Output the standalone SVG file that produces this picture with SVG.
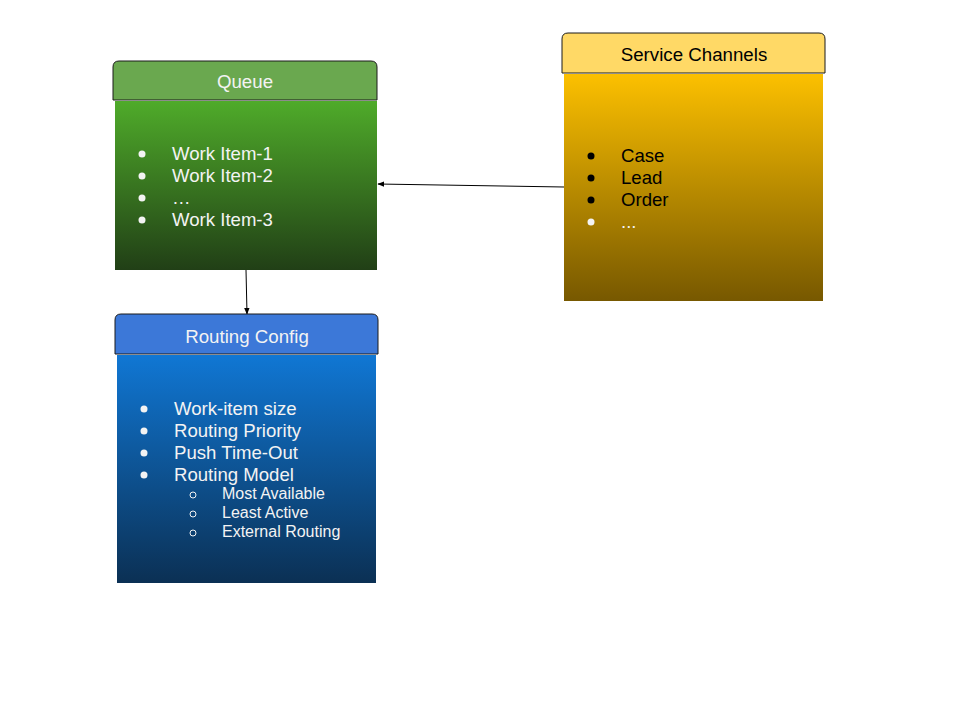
<svg xmlns="http://www.w3.org/2000/svg" width="960" height="720" viewBox="0 0 960 720">
<defs>
<linearGradient id="gGreen" x1="0" y1="0" x2="0" y2="1"><stop offset="0" stop-color="#4fab2a"/><stop offset="1" stop-color="#213f16"/></linearGradient>
<linearGradient id="gGold" x1="0" y1="0" x2="0" y2="1"><stop offset="0" stop-color="#fcc000"/><stop offset="1" stop-color="#775800"/></linearGradient>
<linearGradient id="gBlue" x1="0" y1="0" x2="0" y2="1"><stop offset="0" stop-color="#1077d4"/><stop offset="1" stop-color="#0b3054"/></linearGradient>
<marker id="arr" viewBox="0 0 10 10" refX="9" refY="5" markerWidth="7" markerHeight="7" orient="auto" markerUnits="userSpaceOnUse"><path d="M0,1 L10,5 L0,9 z" fill="#000"/></marker>
</defs>
<style>
text{font-family:"Liberation Sans",Arial,sans-serif}
.hdr{stroke:#1a1a1a;stroke-width:1}
.ht{font-size:18.7px;text-anchor:middle}
.it{font-size:18.6px}
.sub{font-size:16px}
.w{fill:#f3f3f3}
.k{fill:#000}
.conn{stroke:#000;stroke-width:1;fill:none;marker-end:url(#arr)}
</style>
<rect width="960" height="720" fill="#fff"/>
<g id="connectors">
<line class="conn" x1="564" y1="187" x2="378" y2="184"/>
<line class="conn" x1="246" y1="270" x2="247" y2="314"/>
</g>
<g id="queue">
<path class="hdr" d="M113,100 V67 Q113,61 119,61 H371 Q377,61 377,67 V100 Z" fill="#6aa84f"/>
<text class="ht w" x="245" y="88">Queue</text>
<rect x="115" y="101" width="262" height="169" fill="url(#gGreen)"/>
<g class="w">
<circle cx="142" cy="154" r="3.5"/><circle cx="142" cy="176" r="3.5"/><circle cx="142" cy="198" r="3.5"/><circle cx="142" cy="220" r="3.5"/>
<text class="it" x="172" y="160">Work Item-1</text>
<text class="it" x="172" y="182">Work Item-2</text>
<text class="it" x="172" y="204">…</text>
<text class="it" x="172" y="226">Work Item-3</text>
</g>
</g>
<g id="service-channels">
<path class="hdr" d="M562,73 V39 Q562,33 568,33 H819 Q825,33 825,39 V73 Z" fill="#ffd966"/>
<text class="ht k" x="694" y="61">Service Channels</text>
<rect x="564" y="74" width="259" height="227" fill="url(#gGold)"/>
<g class="k">
<circle cx="591" cy="156" r="3.5"/><circle cx="591" cy="178" r="3.5"/><circle cx="591" cy="200" r="3.5"/>
<text class="it" x="621" y="162">Case</text>
<text class="it" x="621" y="184">Lead</text>
<text class="it" x="621" y="206">Order</text>
</g>
<circle cx="591" cy="222" r="3.5" fill="#f3f3f3"/>
<text class="it w" x="621" y="228">...</text>
</g>
<g id="routing-config">
<path class="hdr" d="M115,354 V320 Q115,314 121,314 H372 Q378,314 378,320 V354 Z" fill="#3c78d8"/>
<text class="ht w" x="247" y="343">Routing Config</text>
<rect x="117" y="355" width="259" height="228" fill="url(#gBlue)"/>
<g class="w">
<circle cx="144" cy="409" r="3.5"/><circle cx="144" cy="431" r="3.5"/><circle cx="144" cy="453" r="3.5"/><circle cx="144" cy="475" r="3.5"/>
<text class="it" x="174" y="415">Work-item size</text>
<text class="it" x="174" y="437">Routing Priority</text>
<text class="it" x="174" y="459">Push Time-Out</text>
<text class="it" x="174" y="481">Routing Model</text>
<text class="sub" x="222" y="499">Most Available</text>
<text class="sub" x="222" y="518">Least Active</text>
<text class="sub" x="222" y="537">External Routing</text>
</g>
<g fill="none" stroke="#f3f3f3" stroke-width="1">
<circle cx="193" cy="495" r="3"/><circle cx="193" cy="514" r="3"/><circle cx="193" cy="533" r="3"/>
</g>
</g>
</svg>
